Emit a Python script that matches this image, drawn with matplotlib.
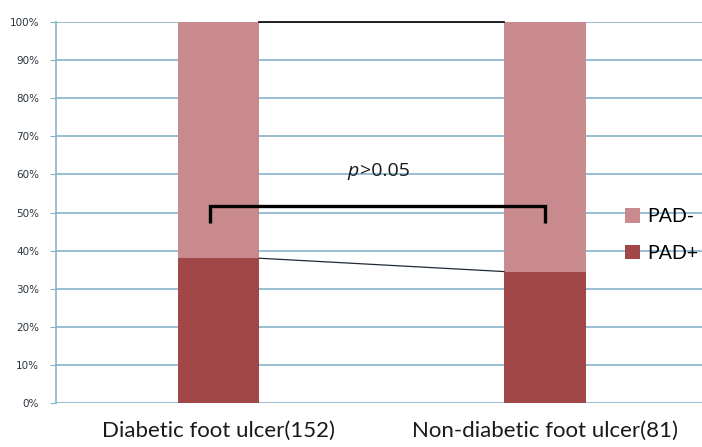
import matplotlib
matplotlib.use("Agg")
import matplotlib.pyplot as plt
from matplotlib.patches import Patch
from matplotlib.ticker import FuncFormatter

categories = ["Diabetic foot ulcer(152)", "Non-diabetic foot ulcer(81)"]
pad_pos = [0.38, 0.345]
pad_neg = [0.62, 0.655]
series_names = ["PAD-", "PAD+"]
yticks = [0, 0.1, 0.2, 0.3, 0.4, 0.5, 0.6, 0.7, 0.8, 0.9, 1.0]

c_neg = "#C98A8D"
c_pos = "#A14748"
grid_c = "#86B2C9"
font = "Lato"

fig = plt.figure(figsize=(7.02, 4.47), dpi=100)
ax = fig.add_axes([0.0793, 0.0984, 0.929, 0.8524])
x = list(range(len(categories)))
w = 0.25
ax.set_xlim(-0.5, 1.5)
ax.set_ylim(0, 1.0)
ax.set_yticks(yticks)
ax.yaxis.set_major_formatter(FuncFormatter(lambda v, p: f"{int(round(v*100))}%"))
for y in yticks:
    ax.axhline(y, color=grid_c, lw=1.2, zorder=0)

ax.bar(x, pad_pos, width=w, color=c_pos, zorder=2)
ax.bar(x, pad_neg, width=w, bottom=pad_pos, color=c_neg, zorder=2)

# series lines
ax.plot([x[0] + w/2, x[1] - w/2], [pad_pos[0], pad_pos[1]], color="#1f2a36", lw=0.9, zorder=3)
tops = [pad_pos[i] + pad_neg[i] for i in range(2)]
ax.plot([x[0] + w/2, x[1] - w/2], tops, color="black", lw=1.2, zorder=3, clip_on=False)

# significance bracket
ax.plot([-0.028, -0.028, 1.002, 1.002], [0.472, 0.517, 0.517, 0.472], color="black", lw=2.4,
        zorder=4, solid_capstyle="butt", solid_joinstyle="miter")
ax.text(0.43, 0.609, "p", ha="right", va="center", fontsize=14, family="Open Sans",
        style="italic", color="#1a1a1a")
ax.text(0.432, 0.609, ">0.05", ha="left", va="center", fontsize=14, family="Open Sans",
        color="#1a1a1a")

for s in ["top", "right", "bottom"]:
    ax.spines[s].set_visible(False)
ax.spines["left"].set_color(grid_c)
ax.spines["left"].set_linewidth(1.2)
ax.tick_params(axis="y", length=4, color=grid_c, labelsize=7.5, labelcolor="#2a3440", pad=8)
ax.tick_params(axis="x", length=0, pad=13)
ax.set_xticks(x)
ax.set_xticklabels(categories, fontsize=16, family=font, color="#1a1a1a")
for lbl in ax.get_yticklabels():
    lbl.set_family("DejaVu Sans")

handles = [Patch(facecolor=c_neg, label=series_names[0]), Patch(facecolor=c_pos, label=series_names[1])]
leg = ax.legend(handles=handles, loc="center left", bbox_to_anchor=(0.873, 0.441),
                frameon=False, handlelength=0.75, handleheight=0.75, borderpad=0,
                borderaxespad=0, handletextpad=0.4, labelspacing=1.0,
                prop={"family": font, "size": 14})

fig.savefig("out.png", dpi=100)
